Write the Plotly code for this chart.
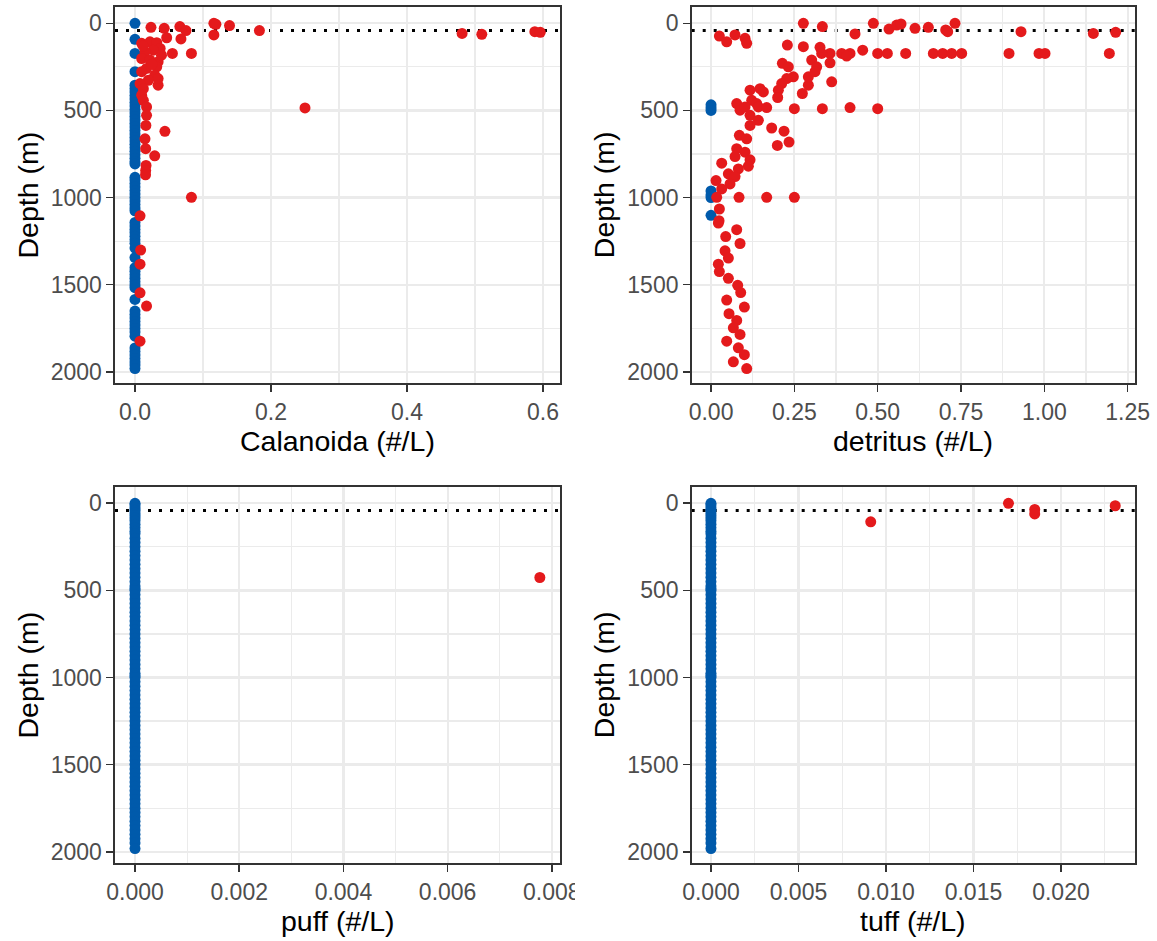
import plotly.graph_objects as go

# ---------------- data ----------------
mixed_layer_depth_m = 42

# sampling depths where puff / tuff are zero
profile_depth_m = [0, 10, 25, 40, 55, 70, 85, 100, 120, 140, 160, 175, 200, 225, 250, 275,
                   300, 325, 350, 375, 400, 425, 450, 475, 490, 500, 525, 550, 575, 600, 625,
                   650, 675, 700, 725, 750, 775, 800, 825, 850, 875, 900, 925, 950, 975, 990,
                   1000, 1025, 1050, 1075, 1100, 1125, 1150, 1175, 1200, 1225, 1250, 1275,
                   1300, 1325, 1350, 1375, 1400, 1425, 1450, 1475, 1500, 1525, 1550, 1575,
                   1600, 1625, 1650, 1675, 1700, 1725, 1750, 1775, 1800, 1825, 1850, 1875,
                   1900, 1925, 1950, 1982]

# Calanoida
calanoida_zero_depth_m = [0, 92, 173, 278, 355, 375, 395, 415, 435, 455, 475, 495, 515, 535,
                          555, 575, 595, 615, 635, 655, 675, 695, 715, 735, 755, 775, 795, 807,
                          884, 900, 920, 940, 960, 980, 1000, 1020, 1040, 1060, 1076, 1143,
                          1163, 1183, 1203, 1223, 1243, 1263, 1290, 1345, 1403, 1423, 1443,
                          1463, 1483, 1503, 1518, 1585, 1652, 1672, 1692, 1712, 1732, 1752,
                          1772, 1796, 1864, 1884, 1904, 1924, 1944, 1962, 1982]
calanoida_depth_m = [23, 29, 19, 42, 0, 6, 13, 67, 42, 58, 63, 48, 52, 83, 90, 173, 173,
                     355, 486, 620, 761, 999,
                     115, 106, 111, 144, 154, 163, 202, 211, 221, 250, 259, 278, 298, 317,
                     327, 346, 375, 413, 442, 183, 130, 235,
                     480, 528, 586, 663, 720, 816, 845, 870,
                     1105, 1302, 1383, 1547, 1623, 1825]
calanoida_per_L = [0.0235, 0.043, 0.066, 0.075, 0.116, 0.119, 0.139, 0.116, 0.183, 0.481,
                   0.51, 0.588, 0.596, 0.0466, 0.0676, 0.055, 0.083,
                   0.034, 0.25, 0.044, 0.029, 0.083,
                   0.0098, 0.022, 0.032, 0.037, 0.027, 0.0147, 0.0098, 0.022, 0.034, 0.032,
                   0.017, 0.0098, 0.029, 0.034, 0.0196, 0.0074, 0.0123, 0.0098, 0.0123,
                   0.039, 0.012, 0.025,
                   0.017, 0.017, 0.016, 0.0147, 0.0157, 0.0162, 0.0157, 0.0155,
                   0.0074, 0.0083, 0.0074, 0.0074, 0.017, 0.0074]

# detritus
detritus_zero_depth_m = [468, 485, 500, 962, 985, 1000, 1102]
detritus_depth_m = [0, 19, 61, 0, 33, 10, 4, 29, 23, 38, 48, 0, 48, 58, 52,
                    73, 106, 67, 86, 115,
                    173, 173, 173, 173, 173, 173, 173, 173, 173, 173, 173, 154, 173, 173,
                    188, 173, 173, 227, 125, 134, 138,
                    230, 250, 307, 317, 346, 384, 426, 403, 355, 307, 211, 250, 278, 336,
                    375, 384, 394, 442, 461, 461, 499, 480, 480, 484, 490, 490, 484, 490,
                    528, 557, 586, 601, 619, 701, 682, 643, 663, 720, 740, 765, 784, 820,
                    803, 836, 864, 880, 903, 922, 951, 999, 999, 999, 999, 1066, 1133,
                    1147, 1185, 1224, 1264, 1306, 1348, 1383, 1425, 1464, 1504, 1546, 1589,
                    1629, 1667, 1706, 1748, 1786, 1825, 1863, 1902, 1943, 1982]
detritus_per_L = [0.277, 0.334, 0.432, 0.487, 0.534, 0.557, 0.570, 0.612, 0.652, 0.704,
                  0.71, 0.732, 0.93, 1.147, 1.214,
                  0.025, 0.047, 0.072, 0.102, 0.107,
                  0.5, 0.529, 0.584, 0.667, 0.695, 0.722, 0.752, 0.894, 0.984, 1.002, 1.195,
                  0.455, 0.417, 0.392, 0.407, 0.357, 0.332, 0.357, 0.229, 0.277, 0.327,
                  0.214, 0.232, 0.247, 0.227, 0.212, 0.202, 0.2, 0.274, 0.292, 0.292, 0.302,
                  0.317, 0.312, 0.362,
                  0.147, 0.117, 0.157, 0.122, 0.137, 0.077, 0.087, 0.102, 0.142, 0.167,
                  0.25, 0.334, 0.417, 0.5,
                  0.117, 0.142, 0.117, 0.182, 0.219, 0.199, 0.234, 0.085, 0.107, 0.077,
                  0.102, 0.072, 0.117, 0.112, 0.032, 0.082, 0.052, 0.072, 0.015, 0.057,
                  0.032, 0.017, 0.084, 0.167, 0.25, 0.025, 0.024,
                  0.022, 0.077, 0.044, 0.087, 0.042, 0.052, 0.022, 0.025, 0.052, 0.08,
                  0.089, 0.047, 0.1, 0.054, 0.077, 0.067, 0.087, 0.047, 0.082, 0.1, 0.067,
                  0.107]

# puff
puff_depth_m = [426]
puff_per_L = [0.00777]

# tuff
tuff_depth_m = [106, 0, 35, 61, 14]
tuff_per_L = [0.00913, 0.0170, 0.0185, 0.0185, 0.0231]

# ---------------- figure ----------------
W, H = 1157, 941
BLUE = "#005AAB"
RED = "#E41A1C"
FONT = "Liberation Sans, Arial, sans-serif"
TICK_SIZE = 23
TITLE_SIZE = 28.5

panels = [
    dict(title="Calanoida (#/L)", zero=calanoida_zero_depth_m, depth=calanoida_depth_m,
         val=calanoida_per_L, xr=[-0.0294, 0.625], dtick=0.2, minor=0.1, fmt=".1f",
         box=(115, 560, 6.7, 383.3)),
    dict(title="detritus (#/L)", zero=detritus_zero_depth_m, depth=detritus_depth_m,
         val=detritus_per_L, xr=[-0.058, 1.272], dtick=0.25, minor=0.125, fmt=".2f",
         box=(691.7, 1135, 6.7, 383.3)),
    dict(title="puff (#/L)", zero=profile_depth_m, depth=puff_depth_m,
         val=puff_per_L, xr=[-0.000384, 0.008157], dtick=0.002, minor=0.001, fmt=".3f",
         box=(115, 560, 486.7, 863.3)),
    dict(title="tuff (#/L)", zero=profile_depth_m, depth=tuff_depth_m,
         val=tuff_per_L, xr=[-0.0011, 0.02423], dtick=0.005, minor=0.0025, fmt=".3f",
         box=(691.7, 1135, 486.7, 863.3)),
]

fig = go.Figure()
layout = dict(
    width=W, height=H, autosize=False,
    margin=dict(l=0, r=0, t=0, b=0, pad=0, autoexpand=False),
    paper_bgcolor="white", plot_bgcolor="white", showlegend=False,
    font=dict(family=FONT, color="#4D4D4D"),
)
shapes = []
annotations = []

axis_common = dict(
    showline=True, mirror=True, linecolor="#333333", linewidth=1.6,
    ticks="outside", tickcolor="#333333", ticklen=7, tickwidth=1.6,
    tickfont=dict(family=FONT, size=TICK_SIZE, color="#4D4D4D"),
    showgrid=True, gridcolor="#EBEBEB", gridwidth=2.2, zeroline=False,
    automargin=False,
)

for i, p in enumerate(panels, start=1):
    sx = "" if i == 1 else str(i)
    x0, x1, y0, y1 = p["box"]
    fig.add_trace(go.Scatter(
        x=[0] * len(p["zero"]), y=p["zero"], mode="markers",
        marker=dict(color=BLUE, size=11, line=dict(width=0)),
        xaxis="x" + sx, yaxis="y" + sx, hoverinfo="skip"))
    fig.add_trace(go.Scatter(
        x=p["val"], y=p["depth"], mode="markers",
        marker=dict(color=RED, size=11, line=dict(width=0)),
        xaxis="x" + sx, yaxis="y" + sx, hoverinfo="skip"))

    layout["xaxis" + sx] = dict(
        axis_common, domain=[x0 / W, x1 / W], anchor="y" + sx,
        range=p["xr"], dtick=p["dtick"], tick0=0, tickformat=p["fmt"],
        minor=dict(dtick=p["minor"], tick0=0, showgrid=True, gridcolor="#EBEBEB",
                   gridwidth=1.1, ticks=""),
    )
    layout["yaxis" + sx] = dict(
        axis_common, domain=[1 - y1 / H, 1 - y0 / H], anchor="x" + sx,
        range=[2066.6, -95.3], dtick=500, tick0=0,
        minor=dict(dtick=250, tick0=0, showgrid=True, gridcolor="#EBEBEB",
                   gridwidth=1.1, ticks=""),
    )
    shapes.append(dict(
        type="line", xref="x" + sx, yref="y" + sx,
        x0=p["xr"][0], x1=p["xr"][1], y0=mixed_layer_depth_m, y1=mixed_layer_depth_m,
        line=dict(color="black", width=3, dash="3px,8px"), layer="below"))

    annotations.append(dict(
        text=p["title"], xref="paper", yref="paper",
        x=(x0 + x1) / 2 / W, y=1 - (y1 + 57.5) / H, xanchor="center", yanchor="middle",
        showarrow=False, font=dict(family=FONT, size=TITLE_SIZE, color="black")))
    annotations.append(dict(
        text="Depth (m)", xref="paper", yref="paper", textangle=-90,
        x=(x0 - 87.5) / W, y=1 - (y0 + y1) / 2 / H, xanchor="center", yanchor="middle",
        showarrow=False, font=dict(family=FONT, size=TITLE_SIZE, color="black")))

# the reference clips the last tick label of the puff panel at the facet boundary
shapes.append(dict(type="rect", xref="paper", yref="paper",
                   x0=575 / W, x1=640 / W, y0=1 - 910 / H, y1=1 - 872 / H,
                   fillcolor="white", line=dict(width=0), layer="above"))

layout["shapes"] = shapes
layout["annotations"] = annotations
fig.update_layout(**layout)

fig.write_html(
    "out.html",
    config={"responsive": False, "displayModeBar": False, "staticPlot": True},
    post_script="document.documentElement.style.margin='0';"
                "document.body.style.margin='0';"
                "document.body.style.overflow='hidden';",
)
